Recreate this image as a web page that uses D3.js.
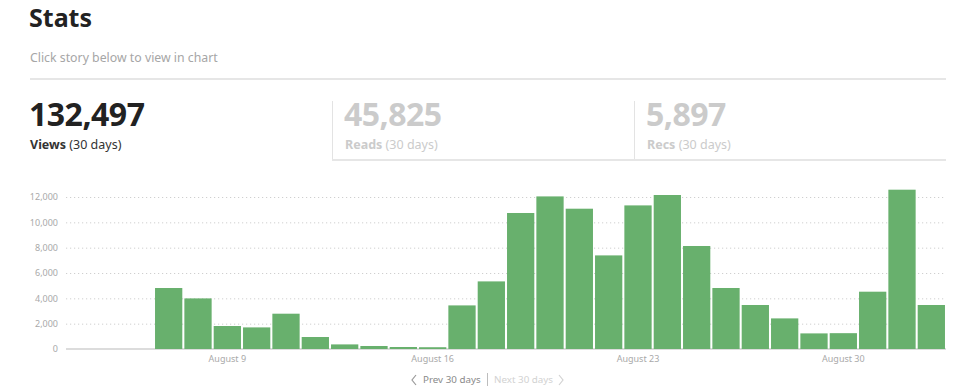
<!DOCTYPE html>
<html>
<head>
<meta charset="utf-8">
<script src="https://cdn.jsdelivr.net/npm/d3@7"></script>
<style>
  html, body { margin: 0; padding: 0; background: #fff; }
  body { width: 975px; height: 386px; overflow: hidden; font-family: "Noto Sans", "Open Sans", sans-serif; }
</style>
</head>
<body>
<div id="page"></div>
<script>
// --- data ---
const days = ["August 4", "August 5", "August 6", "August 7", "August 8", "August 9", "August 10",
  "August 11", "August 12", "August 13", "August 14", "August 15", "August 16", "August 17",
  "August 18", "August 19", "August 20", "August 21", "August 22", "August 23", "August 24",
  "August 25", "August 26", "August 27", "August 28", "August 29", "August 30", "August 31",
  "September 1", "September 2"];
const views = [0, 0, 0, 4815, 3995, 1815, 1705, 2787, 947, 363, 237, 158, 140, 3442,
  5337, 10737, 12047, 11076, 7390, 11337, 12158, 8132, 4816, 3474, 2416, 1232, 1250,
  4524, 12577, 3474];
const xTickLabels = ["August 9", "August 16", "August 23", "August 30"];
const yTicks = [0, 2000, 4000, 6000, 8000, 10000, 12000];

const statNames = ["Views", "Reads", "Recs"];
const statTotals = [132497, 45825, 5897];

// --- layout ---
const W = 975, H = 386;
const svg = d3.select("#page").append("svg")
  .attr("width", W).attr("height", H);

// header
svg.append("text").attr("x", 29).attr("y", 27)
  .attr("font-size", 25).attr("font-weight", 700).attr("fill", "#222")
  .text("Stats");
svg.append("text").attr("x", 30).attr("y", 62)
  .attr("font-size", 12.3).attr("fill", "#a6a6a6")
  .text("Click story below to view in chart");
svg.append("rect").attr("x", 30).attr("y", 78).attr("width", 916).attr("height", 2)
  .attr("fill", "#e6e6e6");

// stat boxes
const boxX = [30, 332, 634];
const boxR = [332, 634, 946];
statNames.forEach((name, i) => {
  const active = i === 0;
  const g = svg.append("g");
  if (!active) {
    g.append("line").attr("x1", boxX[i] + 0.5).attr("x2", boxX[i] + 0.5)
      .attr("y1", 101).attr("y2", 160).attr("stroke", "#e3e3e3");
    g.append("rect").attr("x", boxX[i]).attr("y", 159).attr("width", boxR[i] - boxX[i])
      .attr("height", 2).attr("fill", "#e6e6e6");
  }
  const tx = active ? boxX[i] : boxX[i] + 13;
  g.append("text").attr("x", tx - 1).attr("y", 126)
    .attr("font-size", 32).attr("font-weight", 700).attr("letter-spacing", -0.5)
    .attr("fill", active ? "#222" : "#cbcbcb")
    .text(d3.format(",")(statTotals[i]));
  const lab = g.append("text").attr("x", tx).attr("y", 149)
    .attr("font-size", 12.5).attr("fill", active ? "#333" : "#cbcbcb");
  lab.append("tspan").attr("font-weight", 700).text(name);
  lab.append("tspan").text(" (30 days)");
});

// chart
const x = d3.scaleBand().domain(days).range([66, 946]).paddingInner(0.07).paddingOuter(0.035);
const y = d3.scaleLinear().domain([0, 12000]).range([349, 197]);

// dotted grid
svg.append("g").selectAll("line")
  .data(yTicks.filter(d => d > 0))
  .join("line")
  .attr("x1", 66).attr("x2", 946)
  .attr("y1", d => y(d) + 0.5).attr("y2", d => y(d) + 0.5)
  .attr("stroke", "#cfcfcf").attr("stroke-dasharray", "1.2,2.8");

// baseline
svg.append("rect").attr("x", 66).attr("y", y(0) - 1).attr("width", 880).attr("height", 2)
  .attr("fill", "#dcdcdc");

// y axis
const yAxis = svg.append("g").attr("transform", "translate(58,0)")
  .call(d3.axisLeft(y).tickValues(yTicks).tickSize(0).tickPadding(0).tickFormat(d3.format(",")));
yAxis.select(".domain").remove();
yAxis.selectAll("text").attr("font-size", 9).attr("fill", "#a9a9a9")
  .attr("font-family", "Noto Sans, sans-serif");

// bars
svg.append("g").selectAll("rect")
  .data(views)
  .join("rect")
  .attr("x", (d, i) => x(days[i]))
  .attr("width", x.bandwidth())
  .attr("y", d => y(d))
  .attr("height", d => y(0) - y(d))
  .attr("fill", "#68b06d");

// x axis
const xAxis = svg.append("g").attr("transform", `translate(0,${y(0)})`)
  .call(d3.axisBottom(x).tickValues(xTickLabels).tickSize(0).tickPadding(7));
xAxis.select(".domain").remove();
xAxis.selectAll("text").attr("font-size", 9).attr("fill", "#a9a9a9")
  .attr("font-family", "Noto Sans, sans-serif");

// pager
const nav = svg.append("g").attr("font-size", 9.8);
nav.append("path").attr("d", "M416,375 L412,380 L416,385").attr("fill", "none")
  .attr("stroke", "#9a9a9a").attr("stroke-width", 1.2);
nav.append("text").attr("x", 423).attr("y", 383).attr("fill", "#8a8a8a").text("Prev 30 days");
nav.append("line").attr("x1", 487.5).attr("x2", 487.5).attr("y1", 373).attr("y2", 386)
  .attr("stroke", "#bdbdbd");
nav.append("text").attr("x", 494).attr("y", 383).attr("fill", "#d2d2d2").text("Next 30 days");
nav.append("path").attr("d", "M559,375 L563,380 L559,385").attr("fill", "none")
  .attr("stroke", "#d2d2d2").attr("stroke-width", 1.2);
</script>
</body>
</html>
